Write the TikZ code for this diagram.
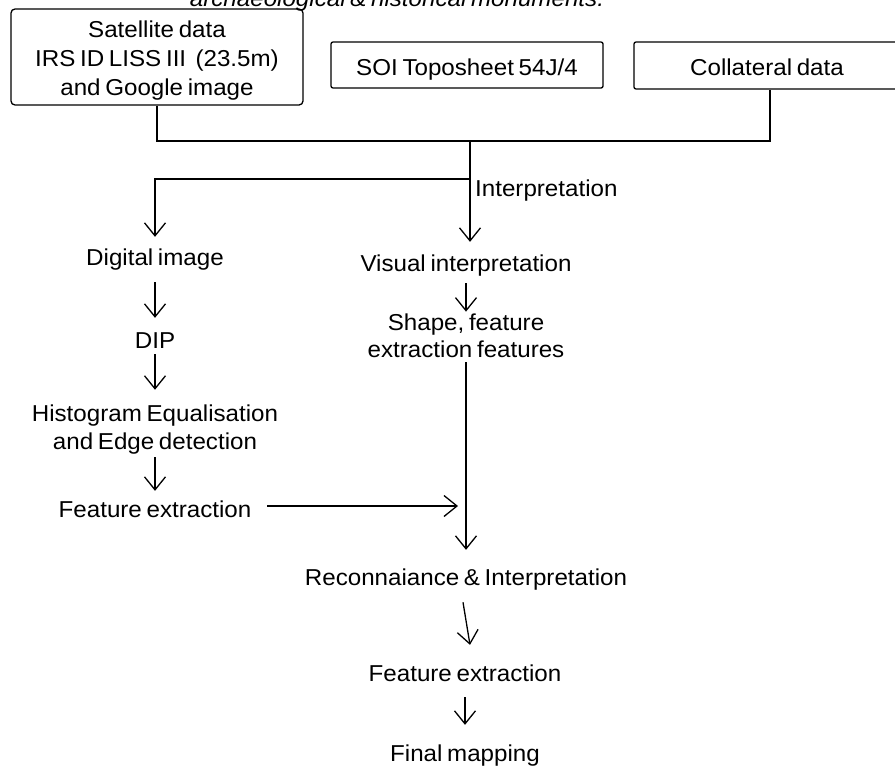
\documentclass[tikz,border=0pt]{standalone}
\usepackage{fontspec}
\setmainfont{Liberation Sans}[FakeStretch=1.05,WordSpace=0.7]
\usetikzlibrary{arrows.meta}
\begin{document}
\begin{tikzpicture}[x=1pt,y=-1pt,
  every node/.style={font=\fontsize{23}{28}\selectfont, inner sep=0pt},
  txt/.style={text height=16.5pt,text depth=4.8pt},
  multi/.style={align=center},
  boxshape/.style={draw,line width=1.3pt},
  conn/.style={line width=1.3pt},
  arr/.style={conn,-{Straight Barb[length=13pt,width=21pt]}}]
\useasboundingbox (0,0) rectangle (895,766);
\fill[white] (0,0) rectangle (895,766);
\clip (0,0) rectangle (895,766);

% header (clipped at the top edge)
\node[font=\fontsize{23}{28}\selectfont\itshape, anchor=base] (head) at (397,6) {archaeological \& historical monuments.};

% input boxes
\node[boxshape, rounded corners=4pt, minimum width=292pt, minimum height=96pt] (sat) at (157,57) {};
\node[multi, font=\fontsize{23}{29}\selectfont] (sattxt) at (157,61) {Satellite data\\IRS ID LISS III\ \ (23.5m)\\and Google image};
\node[boxshape, rounded corners=2pt, minimum width=272pt, minimum height=46pt, text height=24.8pt, text depth=4.8pt] (soi) at (467,65) {SOI Toposheet 54J/4};
\node[boxshape, rounded corners=2pt, minimum width=266pt, minimum height=47pt, text height=24.8pt, text depth=4.8pt] (col) at (767,65.5) {Collateral data};

% text nodes
\node[txt, anchor=west] (interp) at (475,190.2) {Interpretation};
\node[txt] (dig) at (155,259.2) {Digital image};
\node[txt] (dip) at (155,342.2) {DIP};
\node[multi] (hist) at (155,429.2) {Histogram Equalisation\\and Edge detection};
\node[txt] (fe1) at (155,511.2) {Feature extraction};
\node[txt] (vis) at (466,265.2) {Visual interpretation};
\node[multi] (shape) at (466,335.3) {Shape, feature\\[-1pt]extraction features};
\node[txt] (rec) at (466,579.2) {Reconnaiance \& Interpretation};
\node[txt] (fe2) at (465,675.2) {Feature extraction};
\node[txt] (fin) at (465,755.2) {Final mapping};

% junctions
\coordinate (j1) at (470,141);
\coordinate (j2) at (470,179);
\coordinate (c3) at (770,141);
\coordinate (m) at (466,506);

% connectors
\draw[conn] (sat.south) |- (c3) -- (c3 |- col.south);
\draw[arr, shorten >=12.5pt] (j1) -- (j1 |- vis.north);
\draw[arr, shorten >=11.5pt] (j2) -| (dig.north);

\draw[arr, shorten <=12.2pt, shorten >=13.5pt] (dig.south) -- (dig.south |- dip.north);
\draw[arr, shorten <=1.2pt, shorten >=14.5pt] (dip.south) -- (dip.south |- hist.north);
\draw[arr, shorten <=3.2pt, shorten >=9.5pt] (hist.south) -- (hist.south |- fe1.north);
\draw[arr, shorten >=8pt] ([xshift=15.6pt]fe1.east |- m) -- (m);

\draw[arr, shorten <=7.2pt, shorten >=1.5pt] (vis.south) -- (vis.south |- shape.north);
\draw[arr, shorten <=5pt, shorten >=18.5pt] (shape.south) -- (shape.south |- rec.north);
\draw[arr] ([xshift=-3pt,yshift=-12.2pt]rec.south) -- ([xshift=5pt,yshift=19.5pt]fe2.north);
\draw[arr, shorten <=11.2pt, shorten >=19.5pt] (fe2.south) -- (fe2.south |- fin.north);
\end{tikzpicture}
\end{document}
